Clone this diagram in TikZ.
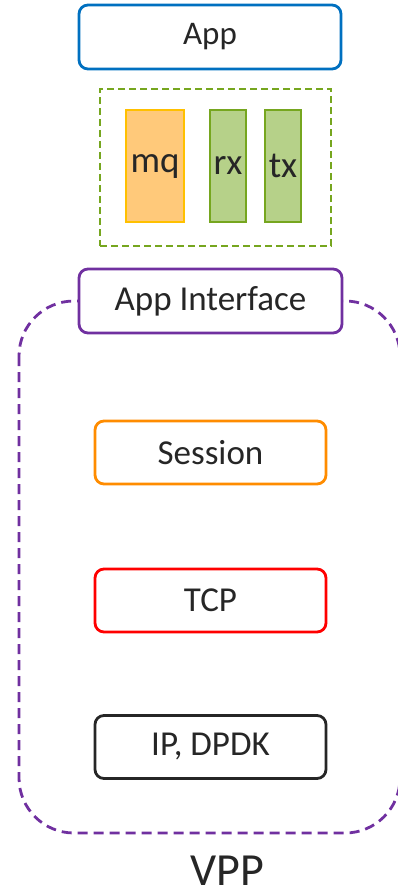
\documentclass[tikz,border=0pt]{standalone}
\usepackage{fontspec}
\setmainfont{Carlito}
\usepackage{tikz}
\definecolor{appblue}{HTML}{0070C0}
\definecolor{grpgreen}{HTML}{76A61F}
\definecolor{mqfill}{HTML}{FFC97A}
\definecolor{mqline}{HTML}{FFC000}
\definecolor{qfill}{HTML}{B6D189}
\definecolor{vpppurple}{HTML}{7030A0}
\definecolor{sessorange}{HTML}{FF8C00}
\definecolor{txtgray}{HTML}{262626}
\newcommand{\fsz}[1]{\fontsize{#1}{#1}\selectfont}
\tikzset{
  layer/.style={draw,line width=2.8pt,rounded corners=9pt,fill=white,
    minimum width=231pt,minimum height=63pt,inner sep=0pt,
    text=txtgray,font=\fsz{35}},
  queue/.style={draw,line width=2.8pt,minimum height=112pt,inner sep=0pt,
    text=txtgray,font=\fsz{37}}
}
\begin{document}
\begin{tikzpicture}[x=1pt,y=-1pt]
  \useasboundingbox (0,0) rectangle (398,896);
  % vpp outline
  \draw[vpppurple,line width=2.8pt,dash pattern=on 10pt off 6pt,rounded corners=55pt]
    (19,301) rectangle (400,833);
  \node[anchor=base,inner sep=0pt,text=txtgray,font=\fsz{46}] (vpp) at (227,885) {VPP};
  % app on top
  \node[layer,draw=appblue,minimum width=262pt,minimum height=64pt,font=\fsz{33}] (app) at (210,37) {App};
  \node[draw=grpgreen,line width=2.8pt,dash pattern=on 7pt off 4pt,
    minimum width=231pt,minimum height=157pt] (grp) at (215.5,167.5) {};
  \node[queue,draw=mqline,fill=mqfill,minimum width=58pt] (mq) at (155,166) {mq};
  \node[queue,draw=grpgreen,fill=qfill,minimum width=36pt] (rx) at (228,166) {rx};
  \node[queue,draw=grpgreen,fill=qfill,minimum width=36pt] (tx) at (283,166) {tx};
  % layers
  \node[layer,draw=vpppurple,minimum width=263pt,minimum height=64pt,font=\fsz{35}] (appif) at (210.5,301) {App Interface};
  \node[layer,draw=sessorange] (session) at (210.5,452.5) {Session};
  \node[layer,draw=red] (tcp) at (210.5,600.5) {TCP};
  \node[layer,draw=txtgray] (ip) at (210.5,747) {IP, DPDK};
\end{tikzpicture}
\end{document}
